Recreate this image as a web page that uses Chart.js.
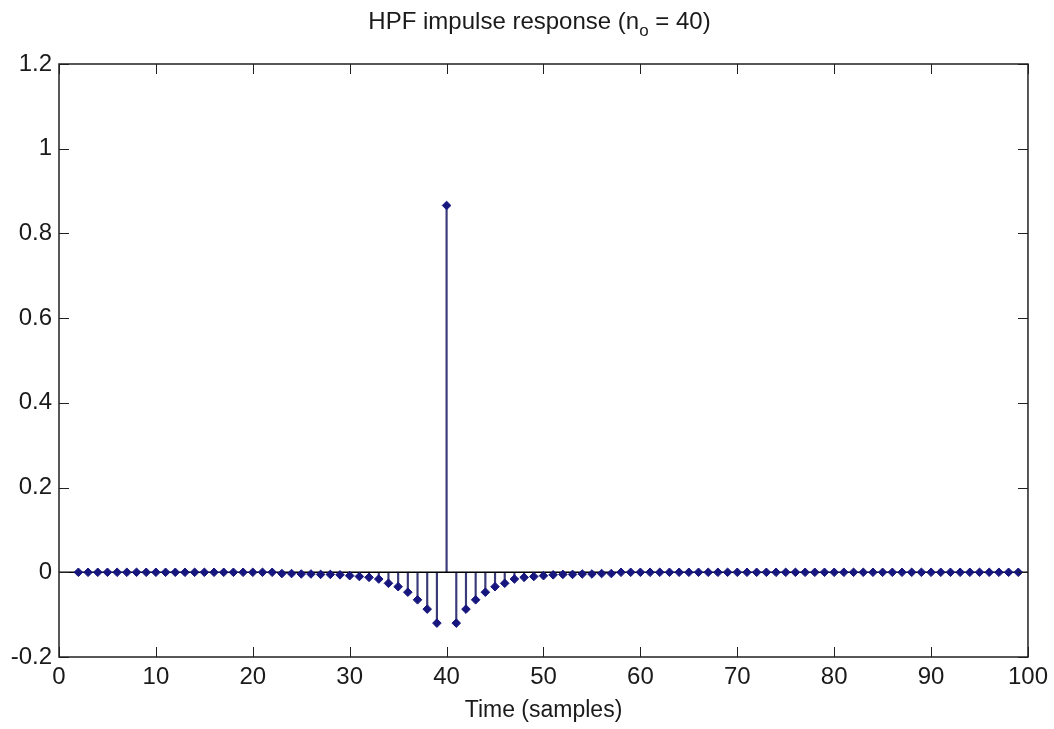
<!DOCTYPE html>
<html>
<head>
<meta charset="utf-8">
<title>HPF impulse response</title>
<script src="https://cdn.jsdelivr.net/npm/chart.js@4.4.1/dist/chart.umd.min.js"></script>
<style>
  body { margin: 0; background: #fff; }
  #wrap { width: 1054px; height: 729px; position: relative; }
</style>
</head>
<body>
<div id="wrap"><canvas id="stem-chart"></canvas></div>
<script>
// sample index n (time in samples)
const samples = [
  2, 3, 4, 5, 6, 7, 8, 9, 10, 11, 12, 13, 14, 15, 16, 17, 18, 19, 20, 21, 22,
  23, 24, 25, 26, 27, 28, 29, 30, 31, 32, 33, 34, 35, 36, 37, 38, 39, 40,
  41, 42, 43, 44, 45, 46, 47, 48, 49, 50, 51, 52, 53, 54, 55, 56, 57,
  58, 59, 60, 61, 62, 63, 64, 65, 66, 67, 68, 69, 70, 71, 72, 73, 74, 75, 76, 77, 78,
  79, 80, 81, 82, 83, 84, 85, 86, 87, 88, 89, 90, 91, 92, 93, 94, 95, 96, 97, 98, 99
];
// impulse response h[n]
const response = [
  0, 0, 0, 0, 0, 0, 0, 0, 0, 0, 0, 0, 0, 0, 0, 0, 0, 0, 0, 0, 0,
  -0.003, -0.003, -0.004, -0.004, -0.005, -0.005, -0.006, -0.008, -0.010, -0.012, -0.016,
  -0.026, -0.034, -0.047, -0.065, -0.087, -0.120, 0.866,
  -0.120, -0.087, -0.065, -0.047, -0.034, -0.026, -0.016, -0.012, -0.010, -0.008,
  -0.006, -0.005, -0.005, -0.004, -0.004, -0.003, -0.003,
  0, 0, 0, 0, 0, 0, 0, 0, 0, 0, 0, 0, 0, 0, 0, 0, 0, 0, 0, 0, 0,
  0, 0, 0, 0, 0, 0, 0, 0, 0, 0, 0, 0, 0, 0, 0, 0, 0, 0, 0, 0, 0
];
const baselineX = [0, 100];
const baselineY = [0, 0];

const xTicks = [0, 10, 20, 30, 40, 50, 60, 70, 80, 90, 100];
const yTicks = [-0.2, 0, 0.2, 0.4, 0.6, 0.8, 1, 1.2];
const yTickLabels = ['-0.2', '0', '0.2', '0.4', '0.6', '0.8', '1', '1.2'];

const titleMain = 'HPF impulse response (n';
const titleSub = 'o';
const titleEnd = ' = 40)';
const xTitle = 'Time (samples)';

const FONT = '"Liberation Sans", Arial, sans-serif';
const TEXT = '#1a1a1a';
const AXIS = '#202020';

const points = samples.map((n, i) => ({ x: n, y: response[i] }));
const baseline = baselineX.map((x, i) => ({ x: x, y: baselineY[i] }));

// matlab style box, inward ticks and the title with a subscript
const matlabFrame = {
  id: 'matlabFrame',
  afterDraw(chart) {
    const ctx = chart.ctx;
    const { left, right, top, bottom } = chart.chartArea;
    const xs = chart.scales.x;
    const ys = chart.scales.y;
    const len = 10;
    ctx.save();
    ctx.strokeStyle = AXIS;
    ctx.lineWidth = 1.5;
    ctx.strokeRect(left, top, right - left, bottom - top);
    ctx.lineWidth = 1;
    ctx.beginPath();
    xTicks.forEach(v => {
      const px = Math.round(xs.getPixelForValue(v)) + 0.5;
      ctx.moveTo(px, bottom); ctx.lineTo(px, bottom - len);
      ctx.moveTo(px, top); ctx.lineTo(px, top + len);
    });
    yTicks.forEach(v => {
      const py = Math.round(ys.getPixelForValue(v)) + 0.5;
      ctx.moveTo(left, py); ctx.lineTo(left + len, py);
      ctx.moveTo(right, py); ctx.lineTo(right - len, py);
    });
    ctx.stroke();

    // title
    const big = '24px ' + FONT;
    const small = '17px ' + FONT;
    ctx.fillStyle = TEXT;
    ctx.textBaseline = 'alphabetic';
    ctx.textAlign = 'left';
    ctx.font = big;
    const w1 = ctx.measureText(titleMain).width;
    const w3 = ctx.measureText(titleEnd).width;
    ctx.font = small;
    const w2 = ctx.measureText(titleSub).width;
    let x = (left + right) / 2 - 4 - (w1 + w2 + w3) / 2;
    const base = 29;
    ctx.font = big;
    ctx.fillText(titleMain, x, base);
    x += w1;
    ctx.font = small;
    ctx.fillText(titleSub, x, base + 7);
    x += w2;
    ctx.font = big;
    ctx.fillText(titleEnd, x, base);
    ctx.restore();
  }
};

new Chart(document.getElementById('stem-chart'), {
  type: 'scatter',
  data: {
    datasets: [
      {
        label: 'markers',
        data: points,
        pointStyle: 'rectRot',
        pointRadius: 4.3,
        backgroundColor: '#16167e',
        borderColor: '#16167e',
        borderWidth: 1,
        order: 0
      },
      {
        type: 'line',
        label: 'baseline',
        data: baseline,
        borderColor: '#000000',
        borderWidth: 1.5,
        pointRadius: 0,
        order: 1
      },
      {
        type: 'bar',
        label: 'stems',
        data: points,
        backgroundColor: '#3a3a78',
        barThickness: 1.5,
        order: 2
      }
    ]
  },
  options: {
    responsive: true,
    maintainAspectRatio: false,
    animation: false,
    layout: { padding: { top: 64, right: 26, left: 0, bottom: 0 } },
    plugins: {
      legend: { display: false },
      tooltip: { enabled: false },
      title: { display: false }
    },
    scales: {
      x: {
        type: 'linear',
        min: 0,
        max: 100,
        offset: false,
        grid: { display: false, offset: false, drawTicks: false },
        border: { display: false },
        afterBuildTicks: (scale) => { scale.ticks = xTicks.map(v => ({ value: v })); },
        afterFit: (scale) => { scale.height = 72; },
        ticks: {
          padding: 6,
          color: TEXT,
          font: { family: FONT, size: 24 },
          maxRotation: 0,
          callback: (v) => String(v)
        },
        title: {
          display: true,
          text: xTitle,
          color: TEXT,
          font: { family: FONT, size: 23 },
          padding: { top: 0, bottom: 5 }
        }
      },
      y: {
        type: 'linear',
        min: -0.2,
        max: 1.2,
        grid: { display: false, drawTicks: false },
        border: { display: false },
        afterBuildTicks: (scale) => { scale.ticks = yTicks.map(v => ({ value: v })); },
        afterFit: (scale) => { scale.width = 59; },
        ticks: {
          padding: 7,
          color: TEXT,
          font: { family: FONT, size: 24 },
          callback: (v, i) => yTickLabels[i]
        }
      }
    }
  },
  plugins: [matlabFrame]
});
</script>
</body>
</html>
